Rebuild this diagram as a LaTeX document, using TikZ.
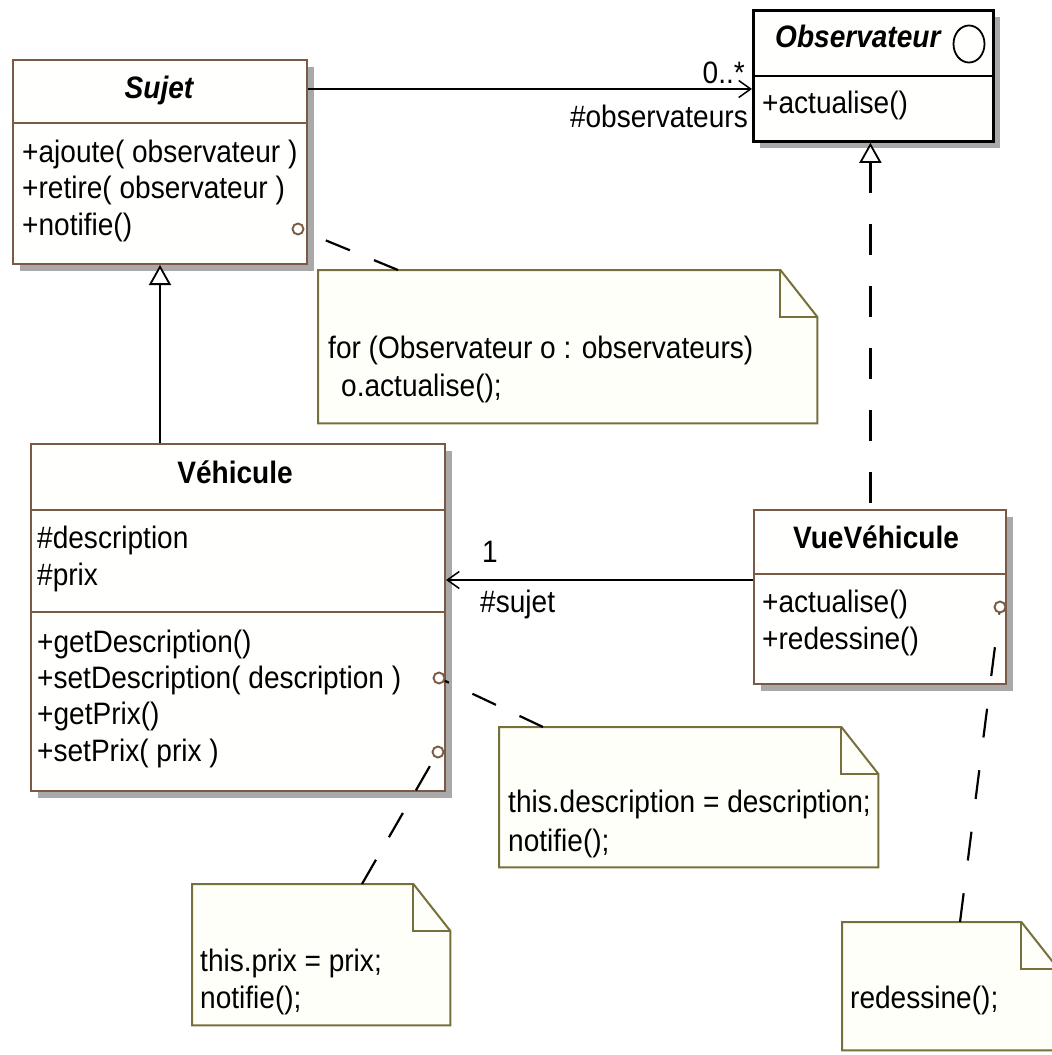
\documentclass[tikz,border=0pt]{standalone}
\usepackage{fontspec}
\setmainfont[FakeStretch=0.905]{Liberation Sans}
\usetikzlibrary{arrows.meta,shapes.geometric,calc,shadows}

\definecolor{classline}{HTML}{7A5A44}
\definecolor{classfill}{HTML}{FFFFFD}
\definecolor{noteline}{HTML}{77703C}
\definecolor{notefill}{HTML}{FFFFFA}
\definecolor{shadowgray}{HTML}{A9A9A9}

\newcommand\umlfont{\fontsize{31}{36}\selectfont}
% dog-eared outline of a note node (fold 37 x 47)
\newcommand\notepath[1]{(#1.north west) -- ($(#1.north east)+(-37,0)$) -- ($(#1.north east)+(0,47)$) -- (#1.south east) -- (#1.south west) -- cycle}

\tikzset{
  classbox/.style={draw=classline, fill=classfill, line width=2pt, rectangle, inner sep=0pt, anchor=north west,
    general shadow={fill=shadowgray, shadow xshift=7pt, shadow yshift=-7pt}},
  ifacebox/.style={classbox, draw=black, line width=2.8pt},
  sep/.style={draw=classline, line width=2pt},
  ifacesep/.style={draw=black, line width=2.6pt},
  txt/.style={inner sep=0pt, anchor=base west, font=\umlfont, text=black},
  notearea/.style={inner sep=0pt, anchor=north west},
  notebody/.style={draw=noteline, fill=notefill, line width=2pt, line join=miter},
  noteshadow/.style={fill=shadowgray},
  ring/.style={circle, draw=classline, fill=white, line width=1.9pt, minimum size=11pt, inner sep=0pt},
  assoc/.style={draw=black, line width=2.2pt, -{Straight Barb[length=12pt, width=17pt, line width=1.5pt]}},
  inherit/.style={draw=black, line width=2.2pt, -{Triangle[open, length=20pt, width=22pt, line width=1.8pt, fill=white]}},
  realize/.style={inherit, dash pattern=on 31pt off 31pt, dash phase=56pt},
  notelink/.style={draw=black, line width=2.2pt, dash pattern=on 26pt off 26pt},
}

\begin{document}
\begin{tikzpicture}[x=1pt, y=-1pt]
  \useasboundingbox (0,0) rectangle (1052,1055);
  \clip (0,0) rectangle (1052,1055);
  \fill[white] (0,0) rectangle (1052,1055);

  % ---------- class boxes ----------
  \node[classbox, minimum width=294pt, minimum height=204pt] (sujet) at (12,59) {};
  \draw[sep] ($(sujet.north west)+(0,64)$) -- ($(sujet.north east)+(0,64)$);

  \node[ifacebox, minimum width=240pt, minimum height=131pt] (obs) at (752,9) {};
  \draw[ifacesep] ($(obs.north west)+(0,67)$) -- ($(obs.north east)+(0,67)$);

  \node[classbox, minimum width=414pt, minimum height=347pt] (vehicule) at (30,443) {};
  \draw[sep] ($(vehicule.north west)+(0,67)$) -- ($(vehicule.north east)+(0,67)$);
  \draw[sep] ($(vehicule.north west)+(0,169)$) -- ($(vehicule.north east)+(0,169)$);

  \node[classbox, minimum width=252pt, minimum height=174pt] (vue) at (753,509) {};
  \draw[sep] ($(vue.north west)+(0,65)$) -- ($(vue.north east)+(0,65)$);

  % ---------- notes ----------
  \node[notearea, minimum width=499pt, minimum height=153pt] (n1) at (318,270) {};
  \node[notearea, minimum width=379pt, minimum height=140pt] (n2) at (499,727) {};
  \node[notearea, minimum width=258pt, minimum height=141pt] (n3) at (192,884) {};
  \node[notearea, minimum width=216pt, minimum height=128pt] (n4) at (842,922) {};
  \foreach \n in {n1,n2,n3,n4}{
    \fill[noteshadow, shift={(8,8)}] \notepath{\n};
    \filldraw[notebody] \notepath{\n};
    \draw[notebody, fill=none] ($(\n.north east)+(-37,0)$) |- ($(\n.north east)+(0,47)$);
  }

  % ---------- texts ----------
  \node[txt, anchor=base, font=\umlfont\bfseries\itshape] (sujet-t) at (159,98) {Sujet};
  \node[txt] (sujet-m1) at (22,162) {+ajoute( observateur )};
  \node[txt] (sujet-m2) at (22,198) {+retire( observateur )};
  \node[txt] (sujet-m3) at (22,235) {+notifie()};

  \node[txt, font=\umlfont\bfseries\itshape] (obs-t) at (775,47) {Observateur};
  \node[draw=black, ellipse, line width=1.8pt, minimum width=31pt, minimum height=37pt, inner sep=0pt] (obs-icon) at (969,44) {};
  \node[txt] (obs-m1) at (762,113) {+actualise()};

  \node[txt, anchor=base, font=\umlfont\bfseries] (veh-t) at (235,483) {Véhicule};
  \node[txt] (veh-a1) at (37,548) {\#description};
  \node[txt] (veh-a2) at (37,585) {\#prix};
  \node[txt] (veh-m1) at (37,652) {+getDescription()};
  \node[txt] (veh-m2) at (37,688) {+setDescription( description )};
  \node[txt] (veh-m3) at (37,724) {+getPrix()};
  \node[txt] (veh-m4) at (37,761) {+setPrix( prix )};

  \node[txt, anchor=base, font=\umlfont\bfseries] (vue-t) at (876,548) {VueVéhicule};
  \node[txt] (vue-m1) at (762,612) {+actualise()};
  \node[txt] (vue-m2) at (762,649) {+redessine()};

  \node[txt] (n1-l1) at (328,358) {for (Observateur o : observateurs)};
  \node[txt] (n1-l2) at (341,396) {o.actualise();};
  \node[txt] (n2-l1) at (508,812) {this.description = description;};
  \node[txt] (n2-l2) at (508,851) {notifie();};
  \node[txt] (n3-l1) at (200,971) {this.prix = prix;};
  \node[txt] (n3-l2) at (200,1008) {notifie();};
  \node[txt] (n4-l1) at (850,1008) {redessine();};

  % ---------- attachment rings ----------
  \node[ring] (r-notifie) at (298,229) {};
  \node[ring] (r-setdesc) at (439,678) {};
  \node[ring] (r-setprix) at (438,752) {};
  \node[ring] (r-redess) at (1000,607) {};

  % ---------- relations ----------
  \draw[assoc] ($(sujet.north east)+(0,30)$) -- ($(obs.north west)+(0,80)$);
  \node[txt, anchor=base east] (obs-mult) at (745,83) {0..*};
  \node[txt, anchor=base east] (obs-role) at (748,127) {\#observateurs};

  \draw[inherit] (sujet.south |- vehicule.north) -- (sujet.south);
  \coordinate (real-top) at ($(obs.south)+(-3,0)$);
  \draw[realize] (real-top |- vue.north) -- (real-top);

  \draw[assoc] ($(vue.north west)+(0,71)$) -- ($(vehicule.north east)+(0,137)$);
  \node[txt] (veh-mult) at (482,562) {1};
  \node[txt] (veh-role) at (480,612) {\#sujet};

  % ---------- note links ----------
  \coordinate (n1-a) at (398,270);
  \coordinate (n2-a) at (543,727);
  \coordinate (n3-a) at (362,884);
  \coordinate (n4-a) at (960,922);
  \draw[notelink] (n1-a) -- (r-notifie);
  \draw[notelink] (n2-a) -- (r-setdesc);
  \draw[notelink, dash pattern=on 28pt off 26pt] (n3-a) -- (r-setprix);
  \draw[notelink, dash pattern=on 29pt off 33pt] (n4-a) -- (r-redess);
\end{tikzpicture}
\end{document}
